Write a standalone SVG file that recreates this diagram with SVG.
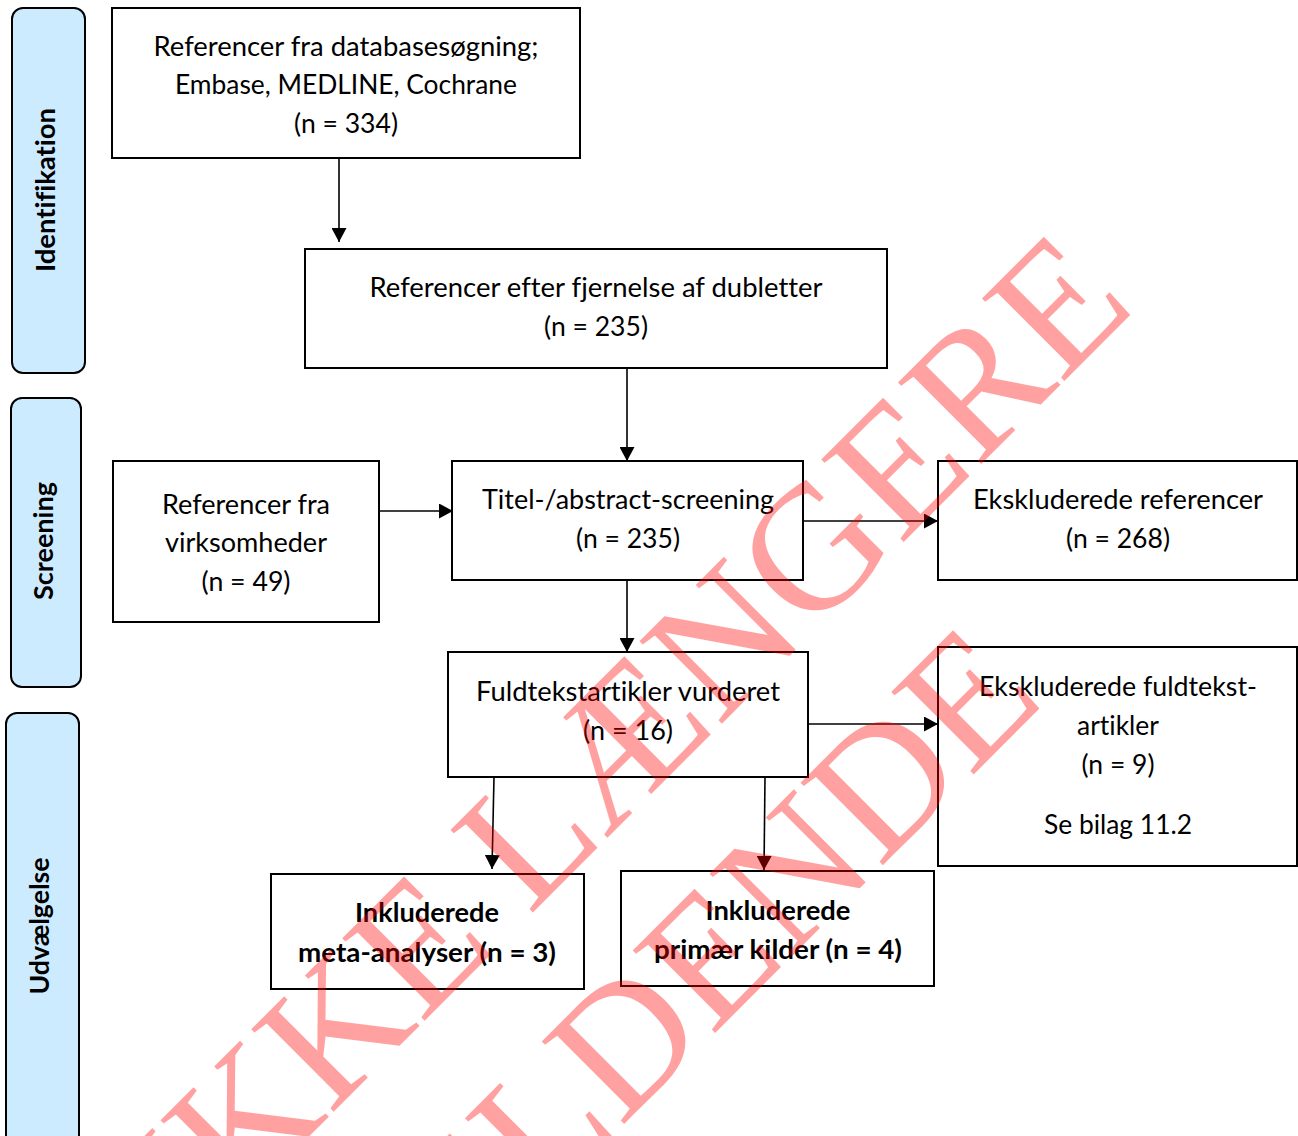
<svg xmlns="http://www.w3.org/2000/svg" width="1298" height="1136" viewBox="0 0 1298 1136">
<style>
.bg{fill:#ffffff}
.box{fill:#ffffff;stroke:#000000;stroke-width:2}
.side{fill:#cdebff;stroke:#000000;stroke-width:2}
.t{font-family:Lato,"Open Sans",sans-serif;font-size:27px;fill:#000000;text-anchor:middle;font-variant-ligatures:none}
.b{font-weight:bold}
.conn line{stroke:#000000;stroke-width:1.6;fill:none}
.wm{font-family:"Liberation Serif","Times New Roman",serif;font-size:178px;fill:#ff0000;fill-opacity:0.37}
</style>
<defs>
<marker id="ah" viewBox="0 0 14 15" refX="14" refY="7.5" markerWidth="14" markerHeight="15" markerUnits="userSpaceOnUse" orient="auto">
<path d="M0,0 L14,7.5 L0,15 z" fill="#000000"/>
</marker>
</defs>
<rect class="bg" x="0" y="0" width="1298" height="1136"/>

<g id="phase-identifikation">
<rect class="side" x="12" y="8" width="73" height="365" rx="11"/>
<text class="t b" transform="translate(55,190) rotate(-90)" textLength="164" lengthAdjust="spacingAndGlyphs">Identifikation</text>
</g>
<g id="phase-screening">
<rect class="side" x="11" y="398" width="70" height="289" rx="11"/>
<text class="t b" transform="translate(53,541) rotate(-90)" textLength="118" lengthAdjust="spacingAndGlyphs">Screening</text>
</g>
<g id="phase-udvaelgelse">
<rect class="side" x="6" y="713" width="73" height="440" rx="11"/>
<text class="t b" transform="translate(49,926) rotate(-90)" textLength="137" lengthAdjust="spacingAndGlyphs">Udvælgelse</text>
</g>

<g id="node-database">
<rect class="box" x="112" y="8" width="468" height="150"/>
<text class="t" x="346" y="56" textLength="385" lengthAdjust="spacingAndGlyphs">Referencer fra databasesøgning;</text>
<text class="t" x="346" y="94" textLength="342" lengthAdjust="spacingAndGlyphs">Embase, MEDLINE, Cochrane</text>
<text class="t" x="346" y="133" textLength="104" lengthAdjust="spacingAndGlyphs">(n = 334)</text>
</g>

<g id="node-dubletter">
<rect class="box" x="305" y="249" width="582" height="119"/>
<text class="t" x="596" y="297" textLength="453" lengthAdjust="spacingAndGlyphs">Referencer efter fjernelse af dubletter</text>
<text class="t" x="596" y="336" textLength="104" lengthAdjust="spacingAndGlyphs">(n = 235)</text>
</g>

<g id="node-virksomheder">
<rect class="box" x="113" y="461" width="266" height="161"/>
<text class="t" x="246" y="514" textLength="168" lengthAdjust="spacingAndGlyphs">Referencer fra</text>
<text class="t" x="246" y="552" textLength="162" lengthAdjust="spacingAndGlyphs">virksomheder</text>
<text class="t" x="246" y="591" textLength="89" lengthAdjust="spacingAndGlyphs">(n = 49)</text>
</g>

<g id="node-screening">
<rect class="box" x="452" y="461" width="351" height="119"/>
<text class="t" x="628" y="509" textLength="292" lengthAdjust="spacingAndGlyphs">Titel-/abstract-screening</text>
<text class="t" x="628" y="548" textLength="104" lengthAdjust="spacingAndGlyphs">(n = 235)</text>
</g>

<g id="node-eksk-ref">
<rect class="box" x="938" y="461" width="359" height="119"/>
<text class="t" x="1118" y="509" textLength="290" lengthAdjust="spacingAndGlyphs">Ekskluderede referencer</text>
<text class="t" x="1118" y="548" textLength="104" lengthAdjust="spacingAndGlyphs">(n = 268)</text>
</g>

<g id="node-fuldtekst">
<rect class="box" x="448" y="652" width="360" height="125"/>
<text class="t" x="628" y="701" textLength="304" lengthAdjust="spacingAndGlyphs">Fuldtekstartikler vurderet</text>
<text class="t" x="628" y="740" textLength="90" lengthAdjust="spacingAndGlyphs">(n = 16)</text>
</g>

<g id="node-eksk-fuld">
<rect class="box" x="938" y="647" width="359" height="219"/>
<text class="t" x="1118" y="696" textLength="278" lengthAdjust="spacingAndGlyphs">Ekskluderede fuldtekst-</text>
<text class="t" x="1118" y="735" textLength="82" lengthAdjust="spacingAndGlyphs">artikler</text>
<text class="t" x="1118" y="774" textLength="73" lengthAdjust="spacingAndGlyphs">(n = 9)</text>
<text class="t" x="1118" y="834" textLength="148" lengthAdjust="spacingAndGlyphs">Se bilag 11.2</text>
</g>

<g id="node-meta">
<rect class="box" x="271" y="874" width="313" height="115"/>
<text class="t b" x="427" y="922" textLength="144" lengthAdjust="spacingAndGlyphs">Inkluderede</text>
<text class="t b" x="427" y="962" textLength="258" lengthAdjust="spacingAndGlyphs">meta-analyser (n = 3)</text>
</g>

<g id="node-primaer">
<rect class="box" x="621" y="871" width="313" height="115"/>
<text class="t b" x="778" y="920" textLength="145" lengthAdjust="spacingAndGlyphs">Inkluderede</text>
<text class="t b" x="778" y="959" textLength="248" lengthAdjust="spacingAndGlyphs">primær kilder (n = 4)</text>
</g>

<g id="connectors" class="conn">
<line x1="339" y1="158" x2="339" y2="242" marker-end="url(#ah)"/>
<line x1="627" y1="368" x2="627" y2="461" marker-end="url(#ah)"/>
<line x1="379" y1="511" x2="453" y2="511" marker-end="url(#ah)"/>
<line x1="803" y1="521" x2="938" y2="521" marker-end="url(#ah)"/>
<line x1="627" y1="580" x2="627" y2="652" marker-end="url(#ah)"/>
<line x1="808" y1="724" x2="938" y2="724" marker-end="url(#ah)"/>
<line x1="494" y1="777" x2="492" y2="869" marker-end="url(#ah)"/>
<line x1="765" y1="777" x2="764" y2="870" marker-end="url(#ah)"/>
</g>

<g id="watermark" class="wm" transform="rotate(-45)">
<text x="-743" y="1022">IKKE LÆNGERE</text>
<text x="-754" y="1236">GÆLDENDE</text>
</g>
</svg>
